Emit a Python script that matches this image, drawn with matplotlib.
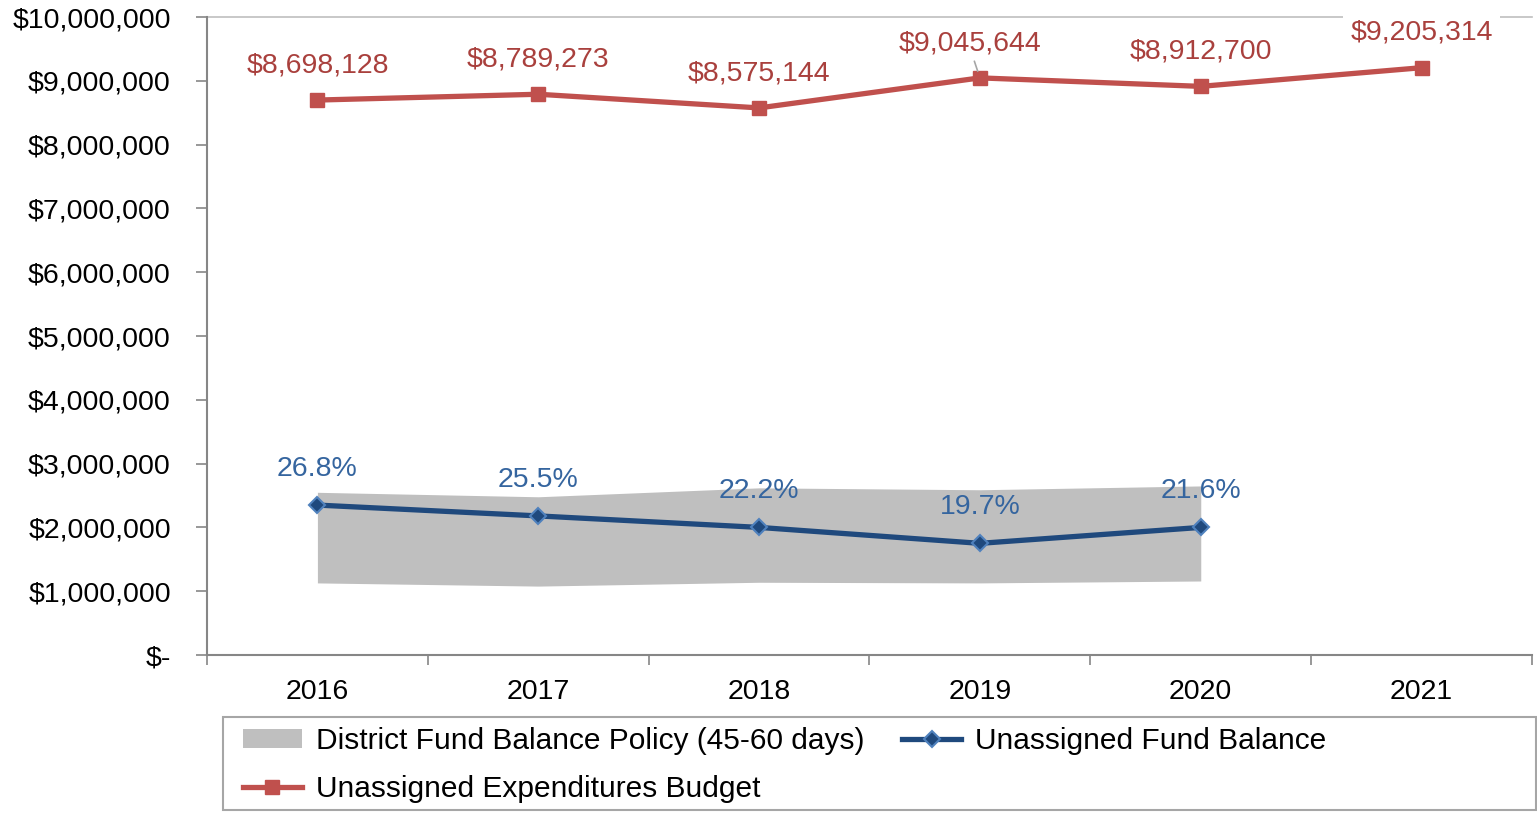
import matplotlib
matplotlib.use("Agg")
import matplotlib.pyplot as plt
from matplotlib.lines import Line2D
from matplotlib.patches import Patch, Rectangle
from matplotlib.ticker import FixedLocator, FuncFormatter

plt.rcParams['font.family'] = ['Liberation Sans', 'DejaVu Sans']

years = ["2016", "2017", "2018", "2019", "2020", "2021"]
budget = [8698128, 8789273, 8575144, 9045644, 8912700, 9205314]
fund_balance = [2350000, 2180000, 2000000, 1750000, 2000000]
fund_pct = ["26.8%", "25.5%", "22.2%", "19.7%", "21.6%"]
policy_low = [1130000, 1080000, 1140000, 1130000, 1160000]
policy_high = [2550000, 2480000, 2620000, 2590000, 2650000]

RED = "#C0504D"
RED_TXT = "#A9403D"
BLUE = "#1F497D"
BLUE_EDGE = "#4F81BD"
BLUE_TXT = "#35659F"
GRAY = "#BFBFBF"
AXIS = "#868686"
FS = 20.5
LEG_FS = 21.5


def money(v, _pos=None):
    if v == 0:
        return "$-"
    return f"${v:,.0f}"


def main():
    fig = plt.figure(figsize=(15.37, 8.15), dpi=100)
    ax = fig.add_axes([207 / 1537, 1 - 655 / 815, 1325 / 1537, 638 / 815])

    x = list(range(len(years)))
    xf = x[:len(fund_balance)]

    ax.fill_between(xf, policy_low, policy_high, color=GRAY, linewidth=0, zorder=1)
    ax.plot(xf, fund_balance, color=BLUE, lw=3.8, marker="D", ms=8,
            mfc=BLUE, mec=BLUE_EDGE, mew=1.5, zorder=3)
    ax.plot(x, budget, color=RED, lw=3.8, marker="s", ms=10,
            mfc=RED, mec=RED, zorder=3)

    # top reference line at $10M
    ax.axhline(10000000, color=GRAY, lw=1.2, zorder=0.5, clip_on=False)

    for i, v in enumerate(budget):
        dx = -7 if i == 3 else 0
        ax.annotate(money(v), (i, v), xytext=(dx, 25), textcoords="offset points",
                    ha="center", va="center", fontsize=FS, color=RED_TXT,
                    bbox=dict(boxstyle="square,pad=0.25", fc="white", ec="none"),
                    zorder=4)
    # leader line for 2019 label
    ax.annotate("", (3, budget[3]), xytext=(-4, 12), textcoords="offset points",
                arrowprops=dict(arrowstyle="-", color="#A6A6A6", lw=1.2,
                                shrinkA=0, shrinkB=5), zorder=4)

    for i, v in enumerate(fund_balance):
        ax.annotate(fund_pct[i], (i, v), xytext=(0, 26), textcoords="offset points",
                    ha="center", va="center", fontsize=FS, color=BLUE_TXT, zorder=4)

    ax.set_xlim(-0.5, 5.5)
    ax.set_ylim(0, 10000000)

    ax.yaxis.set_major_locator(FixedLocator([i * 1000000 for i in range(11)]))
    ax.yaxis.set_major_formatter(FuncFormatter(money))
    ax.tick_params(axis="y", length=8, width=1.2, color=AXIS, pad=18,
                   labelsize=FS)

    ax.xaxis.set_major_locator(FixedLocator([i - 0.5 for i in range(len(years) + 1)]))
    ax.set_xticklabels([], minor=False)
    ax.set_xticks(x, years, minor=True)
    ax.tick_params(axis="x", which="major", length=7, width=1.2, color=AXIS)
    ax.tick_params(axis="x", which="minor", length=0, pad=17, labelsize=FS)

    for s in ("top", "right"):
        ax.spines[s].set_visible(False)
    for s in ("left", "bottom"):
        ax.spines[s].set_color(AXIS)
        ax.spines[s].set_linewidth(1.5)

    handles = [
        Patch(facecolor=GRAY, edgecolor="none"),
        Line2D([], [], color=RED, lw=3.8, marker="s", ms=10, mfc=RED, mec=RED),
        Line2D([], [], color=BLUE, lw=3.8, marker="D", ms=8, mfc=BLUE,
               mec=BLUE_EDGE, mew=1.5),
    ]
    labels = ["District Fund Balance Policy (45-60 days)",
              "Unassigned Expenditures Budget",
              "Unassigned Fund Balance"]
    fig.legend(handles, labels, loc="upper left",
               bbox_to_anchor=(243 / 1537, 1 - 727 / 815), ncol=2,
               frameon=False, fontsize=LEG_FS, handlelength=1.97,
               handleheight=0.65, handletextpad=0.47, columnspacing=1.27,
               labelspacing=0.68, borderpad=0, borderaxespad=0)

    fig.patches.append(Rectangle((223 / 1537, 1 - 810 / 815), 1313 / 1537, 93 / 815,
                                 transform=fig.transFigure, fill=False,
                                 edgecolor="#A6A6A6", lw=1.5))

    fig.savefig("out.png", dpi=100)


if __name__ == "__main__":
    main()
